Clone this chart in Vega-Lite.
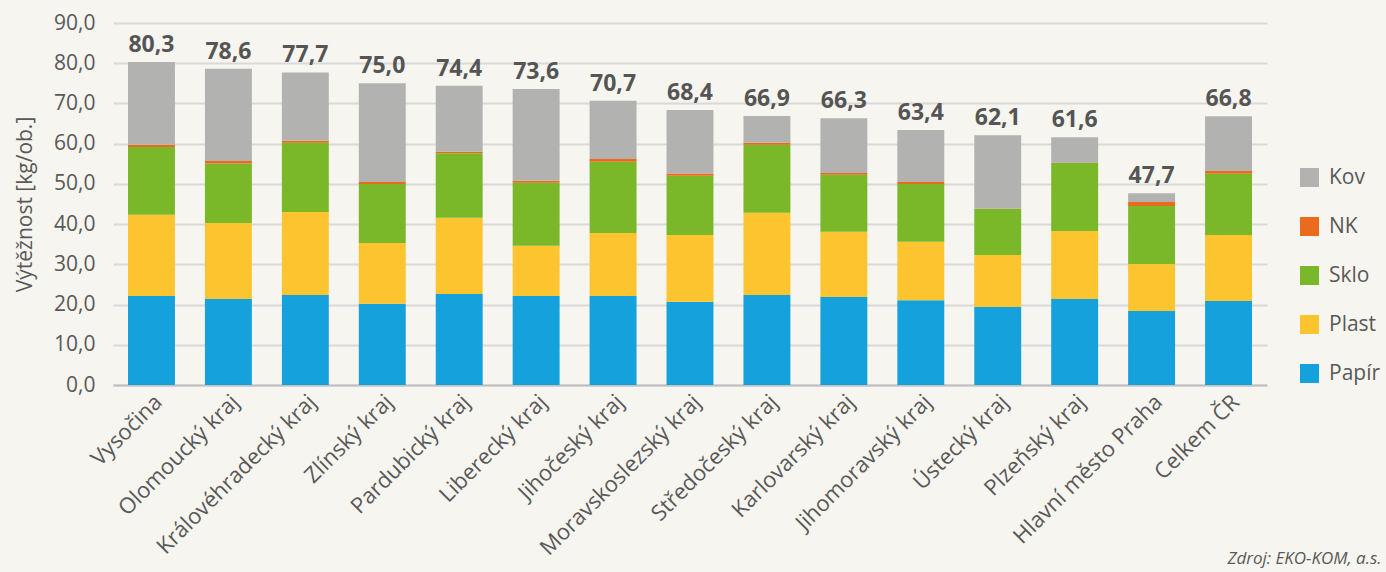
{
  "$schema": "https://vega.github.io/schema/vega-lite/v6.json",
  "width": 1154,
  "height": 362,
  "autosize": {"type": "none"},
  "padding": {"left": 113, "top": 23, "right": 119, "bottom": 187},
  "background": "#F7F5EF",
  "config": {
    "view": {"stroke": null},
    "font": "Open Sans",
    "locale": {"number": {"decimal": ",", "thousands": " ", "grouping": [3], "currency": ["", " Kč"]}}
  },
  "data": {"values": [
    {"kraj": "Vysočina", "druh": "Papír", "poradi": 1, "hodnota": 22.1},
    {"kraj": "Vysočina", "druh": "Plast", "poradi": 2, "hodnota": 20.2},
    {"kraj": "Vysočina", "druh": "Sklo", "poradi": 3, "hodnota": 16.9},
    {"kraj": "Vysočina", "druh": "NK", "poradi": 4, "hodnota": 0.5},
    {"kraj": "Vysočina", "druh": "Kov", "poradi": 5, "hodnota": 20.6},
    {"kraj": "Olomoucký kraj", "druh": "Papír", "poradi": 1, "hodnota": 21.4},
    {"kraj": "Olomoucký kraj", "druh": "Plast", "poradi": 2, "hodnota": 18.9},
    {"kraj": "Olomoucký kraj", "druh": "Sklo", "poradi": 3, "hodnota": 14.8},
    {"kraj": "Olomoucký kraj", "druh": "NK", "poradi": 4, "hodnota": 0.6},
    {"kraj": "Olomoucký kraj", "druh": "Kov", "poradi": 5, "hodnota": 22.9},
    {"kraj": "Královéhradecký kraj", "druh": "Papír", "poradi": 1, "hodnota": 22.4},
    {"kraj": "Královéhradecký kraj", "druh": "Plast", "poradi": 2, "hodnota": 20.6},
    {"kraj": "Královéhradecký kraj", "druh": "Sklo", "poradi": 3, "hodnota": 17.2},
    {"kraj": "Královéhradecký kraj", "druh": "NK", "poradi": 4, "hodnota": 0.5},
    {"kraj": "Královéhradecký kraj", "druh": "Kov", "poradi": 5, "hodnota": 17.0},
    {"kraj": "Zlínský kraj", "druh": "Papír", "poradi": 1, "hodnota": 20.2},
    {"kraj": "Zlínský kraj", "druh": "Plast", "poradi": 2, "hodnota": 15.1},
    {"kraj": "Zlínský kraj", "druh": "Sklo", "poradi": 3, "hodnota": 14.7},
    {"kraj": "Zlínský kraj", "druh": "NK", "poradi": 4, "hodnota": 0.5},
    {"kraj": "Zlínský kraj", "druh": "Kov", "poradi": 5, "hodnota": 24.5},
    {"kraj": "Pardubický kraj", "druh": "Papír", "poradi": 1, "hodnota": 22.6},
    {"kraj": "Pardubický kraj", "druh": "Plast", "poradi": 2, "hodnota": 19.0},
    {"kraj": "Pardubický kraj", "druh": "Sklo", "poradi": 3, "hodnota": 16.0},
    {"kraj": "Pardubický kraj", "druh": "NK", "poradi": 4, "hodnota": 0.4},
    {"kraj": "Pardubický kraj", "druh": "Kov", "poradi": 5, "hodnota": 16.4},
    {"kraj": "Liberecký kraj", "druh": "Papír", "poradi": 1, "hodnota": 22.1},
    {"kraj": "Liberecký kraj", "druh": "Plast", "poradi": 2, "hodnota": 12.5},
    {"kraj": "Liberecký kraj", "druh": "Sklo", "poradi": 3, "hodnota": 15.7},
    {"kraj": "Liberecký kraj", "druh": "NK", "poradi": 4, "hodnota": 0.5},
    {"kraj": "Liberecký kraj", "druh": "Kov", "poradi": 5, "hodnota": 22.8},
    {"kraj": "Jihočeský kraj", "druh": "Papír", "poradi": 1, "hodnota": 22.1},
    {"kraj": "Jihočeský kraj", "druh": "Plast", "poradi": 2, "hodnota": 15.7},
    {"kraj": "Jihočeský kraj", "druh": "Sklo", "poradi": 3, "hodnota": 17.7},
    {"kraj": "Jihočeský kraj", "druh": "NK", "poradi": 4, "hodnota": 0.7},
    {"kraj": "Jihočeský kraj", "druh": "Kov", "poradi": 5, "hodnota": 14.5},
    {"kraj": "Moravskoslezský kraj", "druh": "Papír", "poradi": 1, "hodnota": 20.7},
    {"kraj": "Moravskoslezský kraj", "druh": "Plast", "poradi": 2, "hodnota": 16.6},
    {"kraj": "Moravskoslezský kraj", "druh": "Sklo", "poradi": 3, "hodnota": 14.7},
    {"kraj": "Moravskoslezský kraj", "druh": "NK", "poradi": 4, "hodnota": 0.6},
    {"kraj": "Moravskoslezský kraj", "druh": "Kov", "poradi": 5, "hodnota": 15.8},
    {"kraj": "Středočeský kraj", "druh": "Papír", "poradi": 1, "hodnota": 22.4},
    {"kraj": "Středočeský kraj", "druh": "Plast", "poradi": 2, "hodnota": 20.4},
    {"kraj": "Středočeský kraj", "druh": "Sklo", "poradi": 3, "hodnota": 16.9},
    {"kraj": "Středočeský kraj", "druh": "NK", "poradi": 4, "hodnota": 0.5},
    {"kraj": "Středočeský kraj", "druh": "Kov", "poradi": 5, "hodnota": 6.7},
    {"kraj": "Karlovarský kraj", "druh": "Papír", "poradi": 1, "hodnota": 21.9},
    {"kraj": "Karlovarský kraj", "druh": "Plast", "poradi": 2, "hodnota": 16.2},
    {"kraj": "Karlovarský kraj", "druh": "Sklo", "poradi": 3, "hodnota": 14.2},
    {"kraj": "Karlovarský kraj", "druh": "NK", "poradi": 4, "hodnota": 0.4},
    {"kraj": "Karlovarský kraj", "druh": "Kov", "poradi": 5, "hodnota": 13.6},
    {"kraj": "Jihomoravský kraj", "druh": "Papír", "poradi": 1, "hodnota": 21.1},
    {"kraj": "Jihomoravský kraj", "druh": "Plast", "poradi": 2, "hodnota": 14.5},
    {"kraj": "Jihomoravský kraj", "druh": "Sklo", "poradi": 3, "hodnota": 14.4},
    {"kraj": "Jihomoravský kraj", "druh": "NK", "poradi": 4, "hodnota": 0.5},
    {"kraj": "Jihomoravský kraj", "druh": "Kov", "poradi": 5, "hodnota": 12.9},
    {"kraj": "Ústecký kraj", "druh": "Papír", "poradi": 1, "hodnota": 19.4},
    {"kraj": "Ústecký kraj", "druh": "Plast", "poradi": 2, "hodnota": 12.9},
    {"kraj": "Ústecký kraj", "druh": "Sklo", "poradi": 3, "hodnota": 11.5},
    {"kraj": "Ústecký kraj", "druh": "NK", "poradi": 4, "hodnota": 0.1},
    {"kraj": "Ústecký kraj", "druh": "Kov", "poradi": 5, "hodnota": 18.2},
    {"kraj": "Plzeňský kraj", "druh": "Papír", "poradi": 1, "hodnota": 21.4},
    {"kraj": "Plzeňský kraj", "druh": "Plast", "poradi": 2, "hodnota": 16.9},
    {"kraj": "Plzeňský kraj", "druh": "Sklo", "poradi": 3, "hodnota": 16.9},
    {"kraj": "Plzeňský kraj", "druh": "NK", "poradi": 4, "hodnota": 0.1},
    {"kraj": "Plzeňský kraj", "druh": "Kov", "poradi": 5, "hodnota": 6.3},
    {"kraj": "Hlavní město Praha", "druh": "Papír", "poradi": 1, "hodnota": 18.4},
    {"kraj": "Hlavní město Praha", "druh": "Plast", "poradi": 2, "hodnota": 11.7},
    {"kraj": "Hlavní město Praha", "druh": "Sklo", "poradi": 3, "hodnota": 14.4},
    {"kraj": "Hlavní město Praha", "druh": "NK", "poradi": 4, "hodnota": 1.0},
    {"kraj": "Hlavní město Praha", "druh": "Kov", "poradi": 5, "hodnota": 2.2},
    {"kraj": "Celkem ČR", "druh": "Papír", "poradi": 1, "hodnota": 20.9},
    {"kraj": "Celkem ČR", "druh": "Plast", "poradi": 2, "hodnota": 16.4},
    {"kraj": "Celkem ČR", "druh": "Sklo", "poradi": 3, "hodnota": 15.2},
    {"kraj": "Celkem ČR", "druh": "NK", "poradi": 4, "hodnota": 0.7},
    {"kraj": "Celkem ČR", "druh": "Kov", "poradi": 5, "hodnota": 13.6}
  ]},
  "encoding": {
    "x": {
      "field": "kraj", "type": "nominal", "sort": null,
      "scale": {"paddingInner": 0.39, "paddingOuter": 0.195},
      "axis": {
        "labelAngle": -45, "labelFontSize": 22, "labelColor": "#595959", "labelFont": "Open Sans",
        "labelLimit": 400, "labelOverlap": false,
        "ticks": false, "domainColor": "#BFBFBF", "domainWidth": 2, "labelPadding": 6,
        "title": "Zdroj: EKO-KOM, a.s.", "titleFontStyle": "italic", "titleFontWeight": "normal",
        "titleFontSize": 17, "titleColor": "#595959", "titleAlign": "right", "titleAnchor": null,
        "titleX": 1268, "titleY": 178, "titleBaseline": "alphabetic"
      }
    }
  },
  "layer": [
    {
      "mark": {"type": "bar"},
      "encoding": {
        "y": {
          "aggregate": "sum", "field": "hodnota", "type": "quantitative",
          "scale": {"domain": [0, 90]},
          "axis": {
            "values": [0, 10, 20, 30, 40, 50, 60, 70, 80, 90], "format": ".1f",
            "gridColor": "#D9D9D9", "gridWidth": 2, "domain": false, "ticks": false,
            "labelFontSize": 21, "labelColor": "#595959", "labelPadding": 18,
            "title": "Výtěžnost [kg/ob.]", "titleFontSize": 21, "titleFontWeight": "normal",
            "titleColor": "#595959", "titlePadding": 18
          }
        },
        "color": {
          "field": "druh", "type": "nominal",
          "scale": {
            "domain": ["Kov", "NK", "Sklo", "Plast", "Papír"],
            "range": ["#B2B3B0", "#EA6A1E", "#7AB82A", "#FCC42F", "#15A1DB"]
          },
          "legend": {
            "orient": "none", "legendX": 1186, "legendY": 144, "title": null,
            "symbolType": "square", "symbolSize": 361, "symbolStrokeWidth": 0,
            "labelFontSize": 21, "labelColor": "#595959", "rowPadding": 27, "labelOffset": 9,
            "labelLimit": 200
          }
        },
        "order": {"field": "poradi", "type": "quantitative", "sort": "ascending"}
      }
    },
    {
      "transform": [{"aggregate": [{"op": "sum", "field": "hodnota", "as": "celkem"}], "groupby": ["kraj"]}],
      "mark": {"type": "text", "fontWeight": "bold", "fontSize": 23, "color": "#555555", "baseline": "alphabetic", "dy": -10},
      "encoding": {
        "y": {"field": "celkem", "type": "quantitative"},
        "text": {"field": "celkem", "type": "quantitative", "format": ".1f"}
      }
    }
  ]
}
